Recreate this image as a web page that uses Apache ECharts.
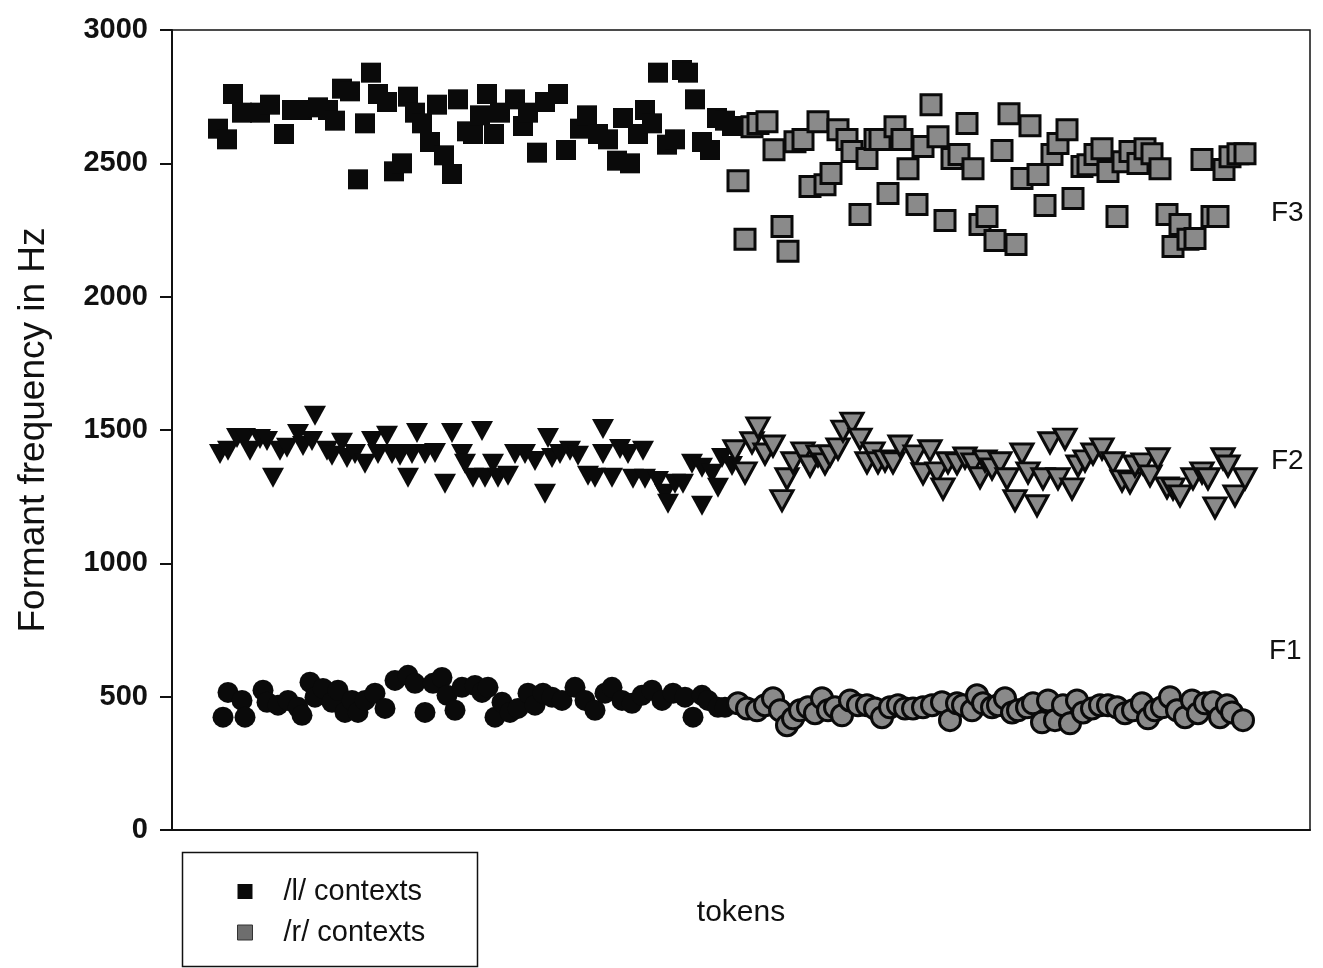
<!DOCTYPE html>
<html>
<head>
<meta charset="utf-8">
<script src="https://cdn.jsdelivr.net/npm/echarts@6/dist/echarts.min.js"></script>
<style>
  html, body { margin: 0; padding: 0; background: #fff; }
  #chart { width: 1323px; height: 968px; }
</style>
</head>
<body>
<div id="chart"></div>
<script>
// token position, formant frequency in Hz
var lF3 = [[9.2,2630],[11,2590],[12.2,2760],[14,2690],[17.6,2690],[19.6,2720],[22.4,2610],[24,2700],[26,2700],[29.2,2710],[31.2,2700],[32.6,2660],[34,2780],[35.6,2770],[37.2,2440],[38.6,2650],[39.8,2840],[41.2,2760],[43,2730],[44.4,2470],[46,2500],[47.2,2750],[48.6,2690],[50,2650],[51.6,2580],[53,2720],[54.4,2530],[56,2460],[57.2,2740],[59,2620],[60.2,2610],[61.6,2680],[63,2760],[64.4,2610],[65.6,2690],[68.6,2740],[70.2,2640],[71.2,2690],[73,2540],[74.6,2730],[77.2,2760],[78.8,2550],[81.6,2630],[83,2680],[85.2,2610],[87.2,2590],[89,2510],[90.2,2670],[91.6,2500],[93.2,2610],[94.6,2700],[96,2650],[97.2,2840],[99,2570],[100.6,2590],[102,2850],[103.2,2840],[104.6,2740],[106,2580],[107.6,2550],[109,2670],[110.6,2660],[112,2640]];
var rF3 = [[113.2,2435],[114.6,2215],[116,2637],[117.2,2649],[119,2656],[120.4,2551],[122,2263],[123.2,2170],[124.6,2581],[126.2,2589],[127.6,2413],[129.2,2656],[130.6,2420],[131.8,2462],[133.2,2626],[135,2589],[136,2544],[137.6,2308],[139,2518],[140.6,2589],[141.6,2589],[143.2,2387],[144.6,2637],[146,2589],[147.2,2480],[149,2346],[150.2,2563],[151.8,2720],[153.2,2600],[154.6,2286],[156,2518],[157.4,2533],[159,2649],[160.2,2480],[161.6,2271],[163,2301],[164.6,2211],[166,2548],[167.4,2686],[168.8,2196],[170,2443],[171.6,2641],[173.2,2458],[174.6,2342],[176,2533],[177.2,2574],[179,2626],[180.2,2368],[182,2488],[183.2,2495],[184.6,2533],[186,2555],[187.2,2469],[189,2301],[190.2,2506],[191.6,2544],[193.2,2499],[194.6,2555],[196,2536],[197.6,2480],[199,2308],[200.2,2188],[201.6,2271],[203.2,2215],[204.6,2218],[206,2514],[208,2301],[209.2,2301],[210.4,2477],[211.6,2525],[213.2,2536],[214.6,2536]];
var lF2 = [[9.6,1410],[11.2,1422],[13,1470],[14.6,1470],[15.6,1422],[17.6,1466],[19,1459],[20.2,1321],[21.6,1422],[23,1433],[25.2,1485],[26.2,1440],[28.6,1553],[28,1459],[31,1422],[32,1403],[34,1452],[35,1395],[36.6,1410],[38.6,1373],[40,1459],[41.2,1410],[43,1478],[44,1410],[45.6,1403],[47.2,1321],[48,1410],[49,1489],[50.6,1410],[52.6,1414],[54.6,1298],[56,1489],[58,1410],[58.6,1373],[60.2,1321],[62,1496],[62.6,1321],[64.2,1373],[65.2,1321],[67.2,1328],[68.6,1410],[70.6,1410],[72.6,1384],[74.6,1261],[75.2,1470],[76,1395],[77.6,1410],[79.6,1422],[81.2,1403],[83.2,1328],[84.6,1321],[86.2,1504],[86.2,1410],[88,1321],[89.6,1429],[91.2,1410],[92.2,1317],[94.2,1422],[94.6,1317],[97.2,1309],[98.6,1261],[99.2,1223],[100.6,1298],[102.2,1298],[104,1373],[106,1216],[106,1358],[108,1336],[109.2,1283],[110,1395],[112,1365]];
var rF2 = [[112.6,1422],[114.6,1339],[116,1452],[117.2,1508],[118.6,1410],[120.2,1440],[122,1235],[123,1317],[124.2,1377],[126.2,1414],[127.6,1365],[129.2,1403],[130.6,1373],[131.6,1403],[133.2,1429],[134.2,1496],[136,1526],[137.6,1466],[139,1377],[140.2,1414],[141.2,1377],[142.6,1384],[144.2,1377],[145.6,1440],[148.6,1403],[150.2,1336],[151.6,1422],[153,1339],[154.2,1279],[155.2,1377],[157,1373],[158.6,1395],[160.2,1373],[161.6,1321],[162.6,1384],[164,1354],[165.6,1377],[167,1317],[168.6,1235],[170,1410],[171.2,1339],[173,1216],[174.2,1317],[175.6,1452],[177.2,1317],[178.6,1466],[180,1279],[181.2,1365],[182.6,1384],[184.2,1410],[186,1429],[188.2,1377],[190,1309],[191.6,1302],[192.6,1365],[194.2,1373],[195.6,1328],[197.2,1392],[199,1283],[200.2,1279],[201.6,1253],[204.2,1317],[206,1339],[207.2,1317],[208.6,1208],[210.2,1392],[211.2,1365],[212.6,1253],[214.6,1317]];
var lF1 = [[10.2,423],[11.2,516],[14,486],[14.6,423],[18.2,524],[19,479],[21.2,468],[23.2,486],[25.2,460],[26,430],[27.6,554],[28.6,498],[30.2,531],[32,479],[33.2,524],[34.6,441],[36,486],[37.2,441],[38.6,486],[40.6,513],[42.6,456],[44.6,561],[47.2,580],[48.6,550],[50.6,441],[52.2,550],[54,572],[55,505],[56.6,449],[58,535],[60.6,542],[62,516],[63.2,535],[64.6,423],[66,479],[67.6,441],[69.2,456],[71.2,513],[72.6,468],[74.2,513],[76,498],[78,486],[80.6,535],[82.6,486],[84.6,449],[86.6,513],[88,535],[90,486],[92,475],[94,505],[96,524],[98,486],[100.2,513],[102.6,498],[104.2,423],[106,505],[107.2,486],[109.2,460],[110.6,460]];
var rF1 = [[113.2,475],[115,456],[117,449],[118.6,468],[120.2,494],[121.6,449],[123,393],[124.2,419],[125.6,449],[127.2,460],[128.6,438],[130,494],[131.2,449],[132.6,460],[134,430],[135.6,486],[137.2,468],[139,468],[140.6,456],[142,423],[143.6,460],[145.2,468],[146.6,456],[148.2,456],[150.2,460],[152,468],[154,479],[155.6,412],[157,475],[158.2,468],[160,449],[161,505],[162.2,475],[164,460],[165.2,468],[166.6,494],[168,441],[169.2,449],[171,460],[172.2,475],[174,404],[175.2,486],[176.6,412],[178.2,468],[179.6,400],[181,486],[182.2,441],[184,456],[185.6,468],[187.2,468],[189,460],[190.6,438],[192.2,449],[194,475],[195.2,419],[196.6,449],[198,460],[199.6,498],[201,449],[202.6,423],[204,486],[205.2,438],[206.6,475],[208.2,479],[209.6,423],[211,468],[212,441],[214.2,412]];

var yTicks = [0, 500, 1000, 1500, 2000, 2500, 3000];
var formantLabels = ['F3', 'F2', 'F1'];

var chart = echarts.init(document.getElementById('chart'));

var blackStyle = { color: '#0a0a0a', opacity: 1 };
var grayStyle = { color: '#8a8a8a', borderColor: '#0a0a0a', borderWidth: 3, opacity: 1 };

var option = {
  animation: false,
  backgroundColor: '#fff',
  grid: {
    left: 172, right: 13, top: 30, bottom: 138,
    show: true, borderColor: '#111', borderWidth: 1.5
  },
  xAxis: {
    type: 'value',
    min: 0, max: 227.6,
    name: 'tokens',
    nameLocation: 'middle',
    nameGap: 68,
    nameTextStyle: { fontFamily: 'Liberation Sans', fontSize: 30, color: '#111' },
    axisLine: { show: true, lineStyle: { color: '#111', width: 2 } },
    axisTick: { show: false },
    axisLabel: { show: false },
    splitLine: { show: false }
  },
  yAxis: {
    type: 'value',
    min: yTicks[0], max: yTicks[yTicks.length - 1], interval: 500,
    name: 'Formant frequency in Hz',
    nameLocation: 'middle',
    nameGap: 120,
    nameTextStyle: { fontFamily: 'Liberation Sans', fontSize: 37, color: '#111' },
    axisLine: { show: true, lineStyle: { color: '#111', width: 2 } },
    axisTick: { show: true, length: 12, lineStyle: { color: '#111', width: 2 } },
    axisLabel: {
      margin: 24, fontFamily: 'Liberation Sans', fontSize: 29, fontWeight: 'bold', color: '#111',
      formatter: function (v) { return String(v); }
    },
    splitLine: { show: false }
  },
  legend: {
    orient: 'vertical',
    left: 232, top: 872,
    itemWidth: 15, itemHeight: 15, itemGap: 12,
    textStyle: { fontFamily: 'Liberation Sans', fontSize: 29, color: '#111', padding: [0, 0, 0, 26] },
    data: [
      { name: '/l/ contexts', icon: 'rect', itemStyle: { color: '#0a0a0a', borderWidth: 0, opacity: 1 } },
      { name: '/r/ contexts', icon: 'rect', itemStyle: { color: '#6e6e6e', borderColor: '#333', borderWidth: 1, opacity: 1 } }
    ]
  },
  graphic: [
    { type: 'rect', left: 180, top: 850, shape: { width: 295, height: 114 },
      style: { fill: 'none', stroke: '#111', lineWidth: 1.5 } },
    { type: 'text', left: 1271, top: 199, style: { text: formantLabels[0], font: '28px Liberation Sans', fill: '#111' } },
    { type: 'text', left: 1271, top: 447, style: { text: formantLabels[1], font: '28px Liberation Sans', fill: '#111' } },
    { type: 'text', left: 1269, top: 637, style: { text: formantLabels[2], font: '28px Liberation Sans', fill: '#111' } }
  ],
  series: [
    { name: '/l/ contexts', type: 'scatter', data: lF3, symbol: 'rect', symbolSize: 20, itemStyle: blackStyle },
    { name: '/r/ contexts', type: 'scatter', data: rF3, symbol: 'rect', symbolSize: 20, itemStyle: grayStyle },
    { name: '/l/ contexts', type: 'scatter', data: lF2, symbol: 'triangle', symbolRotate: 180, symbolSize: [22, 20], itemStyle: blackStyle },
    { name: '/r/ contexts', type: 'scatter', data: rF2, symbol: 'triangle', symbolRotate: 180, symbolSize: [22, 20], itemStyle: grayStyle },
    { name: '/l/ contexts', type: 'scatter', data: lF1, symbol: 'circle', symbolSize: 21, itemStyle: blackStyle },
    { name: '/r/ contexts', type: 'scatter', data: rF1, symbol: 'circle', symbolSize: 21, itemStyle: grayStyle }
  ]
};

chart.setOption(option);
</script>
</body>
</html>
